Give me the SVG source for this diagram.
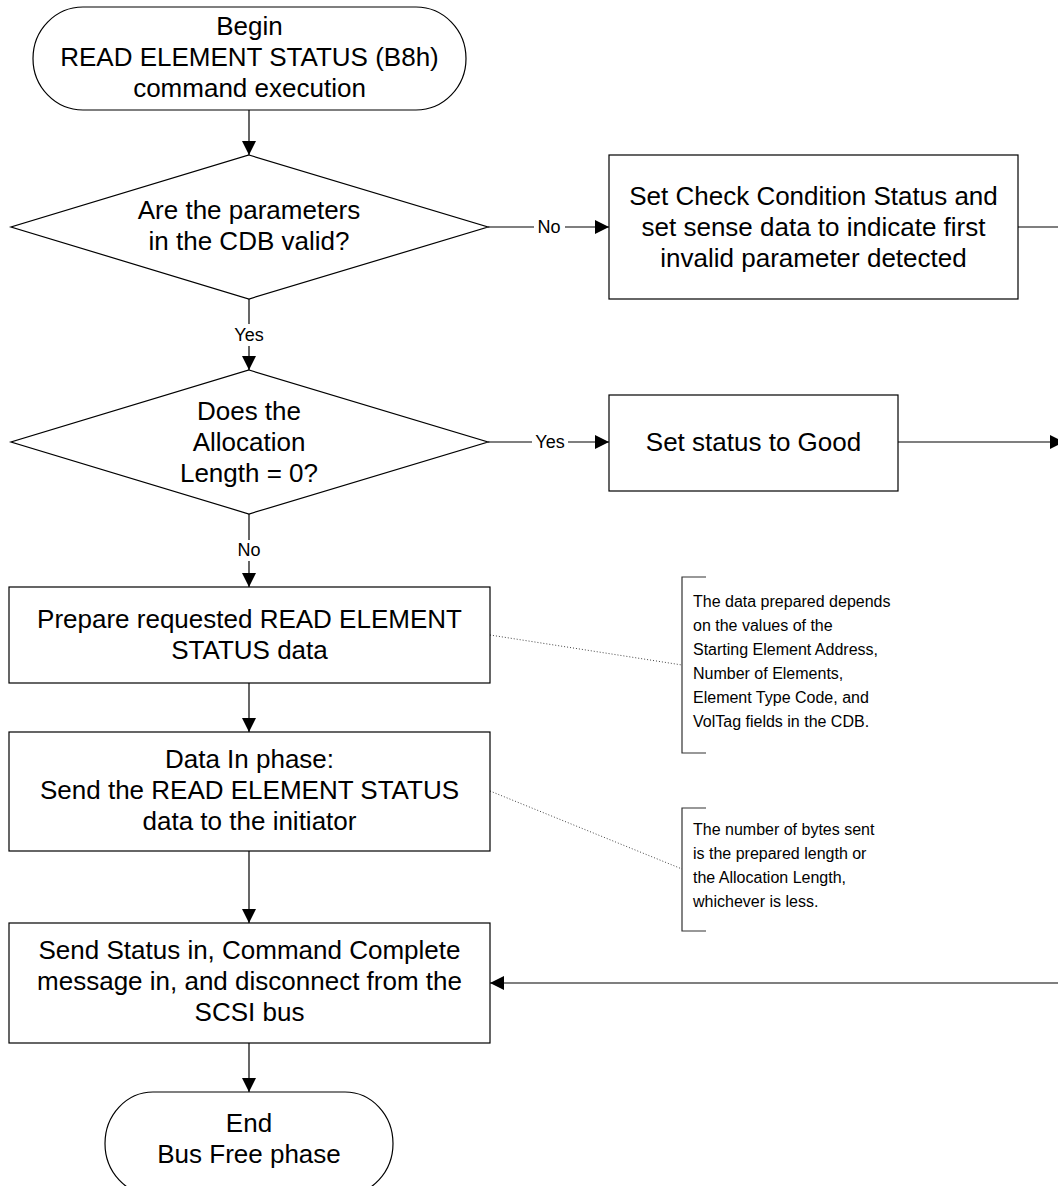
<svg xmlns="http://www.w3.org/2000/svg" width="1058" height="1186" viewBox="0 0 1058 1186">
  <style>
    .shape { fill: #fff; stroke: #000; stroke-width: 1.2; }
    .txt { font-family: "Liberation Sans", Arial, sans-serif; font-size: 26px; fill: #000; text-anchor: middle; }
    .lbl { font-family: "Liberation Sans", Arial, sans-serif; font-size: 18px; fill: #000; text-anchor: middle; }
    .note { font-family: "Liberation Sans", Arial, sans-serif; font-size: 16px; fill: #000; }
    .edge { fill: none; stroke: #000; stroke-width: 1.2; }
    .arrow { fill: none; stroke: #000; stroke-width: 1.2; marker-end: url(#head); }
    .dots { fill: none; stroke: #444; stroke-width: 1; stroke-dasharray: 1 2; }
    .bracket { fill: none; stroke: #333; stroke-width: 1.2; }
  </style>
  <defs>
    <marker id="head" markerUnits="userSpaceOnUse" markerWidth="14" markerHeight="14" refX="14" refY="7" orient="auto">
      <path d="M0,0 L14,7 L0,14 Z" fill="#000"/>
    </marker>
  </defs>
  <rect width="1058" height="1186" fill="#fff"/>

  <!-- connectors -->
  <g id="connectors">
    <line class="arrow" x1="249" y1="110" x2="249" y2="155"/>
    <line class="edge" x1="488" y1="227" x2="534" y2="227"/>
    <line class="arrow" x1="565" y1="227" x2="609" y2="227"/>
    <text class="lbl" x="549" y="233">No</text>
    <line class="edge" x1="1018" y1="227" x2="1058" y2="227"/>
    <line class="edge" x1="249" y1="299" x2="249" y2="324"/>
    <line class="arrow" x1="249" y1="346" x2="249" y2="370"/>
    <text class="lbl" x="249" y="341">Yes</text>
    <line class="edge" x1="488" y1="442" x2="532" y2="442"/>
    <line class="arrow" x1="568" y1="442" x2="609" y2="442"/>
    <text class="lbl" x="550" y="448">Yes</text>
    <line class="arrow" x1="898" y1="442" x2="1064" y2="442"/>
    <line class="edge" x1="249" y1="514" x2="249" y2="540"/>
    <line class="arrow" x1="249" y1="561" x2="249" y2="587"/>
    <text class="lbl" x="249" y="556">No</text>
    <line class="arrow" x1="249" y1="683" x2="249" y2="732"/>
    <line class="arrow" x1="249" y1="851" x2="249" y2="923"/>
    <line class="arrow" x1="1058" y1="983" x2="490" y2="983"/>
    <line class="arrow" x1="249" y1="1043" x2="249" y2="1092"/>
    <line class="dots" x1="490" y1="635" x2="682" y2="665"/>
    <line class="dots" x1="490" y1="791" x2="682" y2="869"/>
  </g>

  <g id="begin">
    <rect class="shape" x="33" y="7" width="433" height="103" rx="50" ry="51.5"/>
    <text class="txt" x="249.5" y="35">Begin</text>
    <text class="txt" x="249.5" y="66">READ ELEMENT STATUS (B8h)</text>
    <text class="txt" x="249.5" y="97">command execution</text>
  </g>

  <g id="check-params">
    <polygon class="shape" points="249,155 488,227 249,299 11,227"/>
    <text class="txt" x="249" y="219">Are the parameters</text>
    <text class="txt" x="249" y="250">in the CDB valid?</text>
  </g>

  <g id="invalid-params">
    <rect class="shape" x="609" y="155" width="409" height="144"/>
    <text class="txt" x="813.5" y="205">Set Check Condition Status and</text>
    <text class="txt" x="813.5" y="236">set sense data to indicate first</text>
    <text class="txt" x="813.5" y="267">invalid parameter detected</text>
  </g>

  <g id="check-alloc">
    <polygon class="shape" points="249,370 488,442 249,514 11,442"/>
    <text class="txt" x="249" y="420">Does the</text>
    <text class="txt" x="249" y="451">Allocation</text>
    <text class="txt" x="249" y="482">Length = 0?</text>
  </g>

  <g id="status-good">
    <rect class="shape" x="609" y="395" width="289" height="96"/>
    <text class="txt" x="753.5" y="451">Set status to Good</text>
  </g>

  <g id="prepare-data">
    <rect class="shape" x="9" y="587" width="481" height="96"/>
    <text class="txt" x="249.5" y="628">Prepare requested READ ELEMENT</text>
    <text class="txt" x="249.5" y="659">STATUS data</text>
  </g>

  <g id="data-in">
    <rect class="shape" x="9" y="732" width="481" height="119"/>
    <text class="txt" x="249.5" y="768">Data In phase:</text>
    <text class="txt" x="249.5" y="799">Send the READ ELEMENT STATUS</text>
    <text class="txt" x="249.5" y="830">data to the initiator</text>
  </g>

  <g id="send-status">
    <rect class="shape" x="9" y="923" width="481" height="120"/>
    <text class="txt" x="249.5" y="959">Send Status in, Command Complete</text>
    <text class="txt" x="249.5" y="990">message in, and disconnect from the</text>
    <text class="txt" x="249.5" y="1021">SCSI bus</text>
  </g>

  <g id="end">
    <rect class="shape" x="105" y="1092" width="288" height="103" rx="48" ry="51.5"/>
    <text class="txt" x="249" y="1132">End</text>
    <text class="txt" x="249" y="1163">Bus Free phase</text>
  </g>

  <g id="note-prepared">
    <path class="bracket" d="M706,577 H682 V753 H706"/>
    <text class="note" x="693" y="607">The data prepared depends</text>
    <text class="note" x="693" y="631">on the values of the</text>
    <text class="note" x="693" y="655">Starting Element Address,</text>
    <text class="note" x="693" y="679">Number of Elements,</text>
    <text class="note" x="693" y="703">Element Type Code, and</text>
    <text class="note" x="693" y="727">VolTag fields in the CDB.</text>
  </g>

  <g id="note-bytes">
    <path class="bracket" d="M706,808 H682 V931 H706"/>
    <text class="note" x="693" y="835">The number of bytes sent</text>
    <text class="note" x="693" y="859">is the prepared length or</text>
    <text class="note" x="693" y="883">the Allocation Length,</text>
    <text class="note" x="693" y="907">whichever is less.</text>
  </g>
</svg>
